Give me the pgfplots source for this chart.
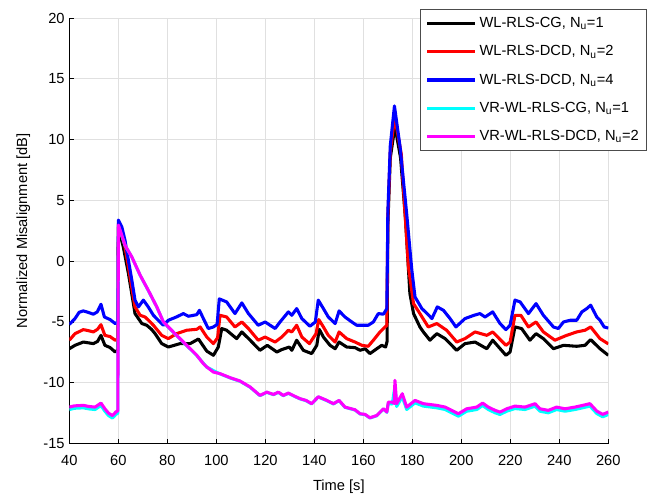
\documentclass[border=0pt]{standalone}
\usepackage{fontspec}
\setmainfont{Liberation Sans}
\usepackage{pgfplots}
\pgfplotsset{compat=1.18}
\definecolor{gridgray}{HTML}{E0E0E0}
\definecolor{cK}{HTML}{000000}
\definecolor{cR}{HTML}{FF0000}
\definecolor{cB}{HTML}{0000FF}
\definecolor{cC}{HTML}{00FFFF}
\definecolor{cM}{HTML}{FF00FF}

\begin{document}
\begin{tikzpicture}
\begin{axis}[
  scale only axis, width=404pt, height=319pt,
  xmin=40, xmax=260, ymin=-15, ymax=20,
  xtick={40,60,...,260}, ytick={-15,-10,...,20},
  axis lines*=left, axis line style={-, black},
  tick align=inside, major tick length=3.5pt,
  tick style={black, line width=0.5pt},
  grid=major, grid style={gridgray, line width=0.6pt},
  font=\fontsize{11}{13}\selectfont,
  /pgf/number format/assume math mode=true,
  xticklabel style={yshift=-5pt},
  xlabel={Time [s]}, ylabel={Normalized Misalignment [dB]},
  xlabel style={yshift=-4pt},
  ylabel style={yshift=3pt},
  legend cell align=left,
  legend style={at={(rel axis cs:1.072,1.021)}, anchor=north east,
    draw=black!70, line width=0.5pt, fill=white,
    font=\fontsize{11}{13}\selectfont, row sep=8pt, inner sep=4pt},
  legend image code/.code={\draw[#1, line width=2.4pt] (0pt,0pt) -- (36pt,0pt);},
  every axis plot/.append style={line width=2.3pt, line join=round},
]
\coordinate (bl) at (rel axis cs:0,0);
\coordinate (tr) at (rel axis cs:1,1);

% WL-RLS-CG, Nu=1
\addplot[cK] coordinates {
(40,-7.2) (42.3,-6.92) (45.7,-6.65) (49.8,-6.78) (51.5,-6.6) (52.9,-6.1) (54.5,-6.92) (56.6,-7.1) (58.7,-7.47) (59.8,-7.3)
(60.0,2.8) (62,1.18) (64.1,-1.0) (66.8,-4.31) (69.6,-5.13) (71.6,-5.27) (73.5,-5.6) (75,-5.96) (77.7,-6.78) (80.4,-7.06)
(85.2,-6.78) (89.3,-6.78) (92.7,-6.4) (96.1,-7.4) (98.8,-7.74) (100.8,-7.06) (102.2,-5.54) (104.2,-5.68) (108.3,-6.37)
(110.4,-5.82) (113.8,-6.5) (117.8,-7.33) (120.8,-6.92) (124.7,-7.47) (126.7,-7.27) (129.8,-7.06) (130.8,-7.33) (132.8,-6.5)
(135.5,-7.33) (138.9,-7.6) (141,-6.92) (142,-5.6) (143.7,-6.24) (146.4,-6.92) (148.5,-7.2) (150.1,-6.65) (153.2,-7.06)
(156.6,-7.11) (158.7,-7.33) (160.7,-7.2) (162.7,-7.6) (165.5,-7.2) (167.5,-6.92) (169.1,-7.06) (169.7,-6.6)
(170.0,3.0) (171.0,8.5) (172.9,11.1) (175.2,8.5) (177.2,3.5) (179,-2.66) (180.5,-4.31) (183.1,-5.41) (184.5,-5.82)
(187.2,-6.5) (190,-5.96) (193.4,-6.37) (198.1,-7.33) (201.5,-6.78) (205.6,-6.65) (210.4,-7.2) (212.8,-6.5) (218.2,-7.74)
(219.9,-7.47) (221.9,-5.41) (224.6,-5.54) (228,-6.5) (230.5,-5.96) (233.5,-6.37) (237.6,-7.2) (241.7,-6.92) (247.1,-7.0)
(250.5,-6.92) (252.8,-6.45) (256.6,-7.2) (260,-7.74)
};
\addlegendentry{WL-RLS-CG, N\textsubscript{u}=1}

% WL-RLS-DCD, Nu=2
\addplot[cR] coordinates {
(40,-6.5) (42.3,-5.96) (45.7,-5.63) (47.5,-5.7) (49.8,-5.82) (51.5,-5.6) (52.9,-5.22) (54.5,-6.1) (56.6,-6.2) (58.7,-6.5) (59.8,-6.4)
(60.0,3.1) (61.4,2.4) (62.7,1.2) (64.1,-0.47) (65.5,-2.2) (66.8,-3.76) (68.9,-4.45) (70.9,-4.59) (72.5,-4.9) (74.3,-5.27)
(77.7,-6.1) (80.4,-6.37) (83.8,-5.96) (87.9,-5.68) (92,-5.6) (93.4,-5.41) (96.1,-6.24) (98.8,-6.78) (100.5,-6.3)
(101.5,-4.45) (104.2,-4.59) (107.6,-5.41) (110.4,-5.0) (113.1,-5.54) (117.1,-6.5) (119.9,-6.24) (124,-6.65) (126.7,-6.24)
(129.4,-5.68) (130.8,-5.82) (132.8,-5.27) (134.9,-6.24) (138,-6.78) (140.7,-5.96) (141.8,-4.8) (143.7,-5.41) (145.7,-6.1)
(148.5,-6.65) (150.1,-5.82) (153.2,-6.37) (156.6,-6.65) (159.4,-6.92) (162,-7.0) (164.1,-6.5) (166.8,-5.82) (169.6,-5.27)
(170.0,3.5) (171.0,9.0) (172.8,11.9) (175.5,8.8) (178.4,-0.47) (180.5,-3.49) (183.1,-4.31) (186.5,-5.41) (190,-5.13)
(194,-5.68) (197.5,-6.5) (198.1,-6.65) (201.5,-6.37) (205.6,-5.82) (210.4,-6.1) (212.8,-5.82) (218.2,-6.92) (219.9,-6.65)
(221.9,-4.45) (224.3,-4.45) (227.4,-5.41) (230.5,-5.0) (233.5,-5.82) (238.2,-6.5) (243,-6.1) (247.1,-5.82) (250.5,-5.68)
(252.8,-5.41) (256.6,-6.37) (260,-6.8)
};
\addlegendentry{WL-RLS-DCD, N\textsubscript{u}=2}

% WL-RLS-DCD, Nu=4
\addplot[cB] coordinates {
(40,-5.2) (42.3,-4.72) (44,-4.2) (45.7,-4.09) (47.1,-4.17) (49.8,-4.36) (51.4,-4.17) (52.9,-3.54) (54.3,-4.59) (56.6,-4.8)
(58.7,-5.13) (59.8,-5.0) (60.0,3.38) (61.4,2.83) (62.7,1.73) (64.1,0.08) (65.5,-1.56) (66.8,-3.2) (68.2,-3.76) (70.2,-3.2)
(72.2,-3.76) (74.3,-4.45) (76.3,-4.86) (78.4,-5.27) (80.4,-4.86) (83.8,-4.58) (86.5,-4.31) (88.6,-4.53) (92,-4.4) (93.1,-4.04)
(94.7,-4.72) (96.7,-5.54) (98.8,-5.41) (100.3,-5.2) (101.2,-3.1) (101.8,-3.15) (104.2,-3.35) (107.6,-4.31) (110.4,-3.43)
(113.1,-4.31) (117.1,-5.27) (119.9,-5.0) (124,-5.54) (126,-5.0) (129.4,-4.17) (130.8,-4.45) (132.8,-3.9) (134.9,-4.72)
(138.2,-5.35) (140.4,-5.0) (141.6,-3.2) (143.7,-3.9) (145.7,-4.59) (148.5,-5.13) (150.1,-4.09) (152.5,-4.59) (155.3,-5.0)
(157.3,-5.27) (159.4,-5.27) (162,-5.27) (164.1,-5.0) (166.1,-4.31) (168.2,-4.36) (169.6,-3.9) (170.0,4.0) (171.0,9.5)
(172.7,12.77) (175,9.4) (177.7,3.9) (179.8,-0.74) (181.1,-2.94) (183.9,-3.9) (186,-4.3) (188,-4.72) (190.2,-3.76) (192.7,-4.04)
(195.4,-4.72) (197.8,-5.41) (201.5,-4.72) (205.2,-4.45) (207.6,-4.31) (209.7,-4.59) (212.8,-4.17) (215.8,-5.13) (218.2,-5.63)
(219.9,-5.27) (221.9,-3.2) (224,-3.35) (227.4,-4.31) (230.5,-3.49) (233.5,-4.45) (237.6,-5.41) (239.6,-5.54) (241.7,-5.0)
(244.4,-4.86) (247.1,-4.86) (249.2,-4.17) (251.2,-3.9) (252.8,-3.62) (255.3,-4.59) (256.6,-4.86) (258.3,-5.41) (260,-5.5)
};
\addlegendentry{WL-RLS-DCD, N\textsubscript{u}=4}

% VR-WL-RLS-CG, Nu=1
\addplot[cC] coordinates {
(40,-12.2) (42,-12.1) (45.7,-12.06) (48,-12.15) (50.5,-12.2) (52.9,-11.87) (54.5,-12.34) (56,-12.7) (57.6,-12.9) (59,-12.6)
(59.8,-12.5) (60.0,2.9) (62.7,1.3) (65.5,0.33) (68.9,-1.17) (72.2,-2.41) (75.7,-3.78) (78.4,-5.02) (83.1,-5.98) (87.9,-6.94)
(92,-7.76) (96.1,-8.72) (101.5,-9.27) (105.6,-9.6) (109.7,-9.88) (113.8,-10.37) (117.8,-11.06) (120.6,-10.79) (123.3,-10.98)
(125.3,-10.79) (127.3,-11.06) (129.4,-10.87) (132.1,-11.14) (134.2,-11.33) (136.6,-11.47) (138.9,-11.74) (141.6,-11.17)
(145.1,-11.47) (147.8,-11.74) (150.1,-11.47) (152.5,-12.02) (156.6,-12.24) (158.7,-12.57) (160.7,-12.62) (162.7,-12.9)
(165.5,-12.71) (168.2,-12.16) (169.6,-12.43) (170.2,-11.7) (171.8,-11.75) (172.9,-10.3) (173.6,-11.95) (175.9,-11.15)
(177.7,-12.2) (181.1,-11.65) (184.5,-11.92) (190,-12.06) (193.4,-12.2) (198.8,-12.75) (202.2,-12.34) (206.3,-12.2)
(208.7,-11.87) (211,-12.2) (213.8,-12.47) (215.8,-12.61) (218.5,-12.34) (221.9,-12.12) (226,-12.2) (230.1,-11.92)
(232.1,-12.34) (235.5,-12.47) (238.9,-12.2) (242.3,-12.34) (246.4,-12.2) (249.5,-12.06) (252.5,-11.92) (255.3,-12.53)
(257.7,-12.8) (260,-12.61)
};
\addlegendentry{VR-WL-RLS-CG, N\textsubscript{u}=1}

% VR-WL-RLS-DCD, Nu=2
\addplot[cM] coordinates {
(40,-12.0) (42,-11.9) (45.7,-11.86) (48,-11.95) (50.5,-12.0) (52.9,-11.67) (54.5,-12.14) (56,-12.5) (57.6,-12.7) (59,-12.4)
(59.8,-12.3) (60.0,2.97) (62.7,1.32) (65.5,0.35) (68.9,-1.15) (72.2,-2.39) (75.7,-3.76) (78.4,-5.0) (83.1,-5.96) (87.9,-6.92)
(92,-7.74) (94.7,-8.43) (96.1,-8.7) (98.8,-9.12) (101.5,-9.25) (105.6,-9.58) (109.7,-9.86) (113.8,-10.35) (117.8,-11.04)
(120.6,-10.77) (123.3,-10.96) (125.3,-10.77) (127.3,-11.04) (129.4,-10.85) (132.1,-11.12) (134.2,-11.31) (136.6,-11.45)
(138.9,-11.72) (141.6,-11.15) (145.1,-11.45) (147.8,-11.72) (150.1,-11.45) (152.5,-12.0) (156.6,-12.22) (158.7,-12.55)
(160.7,-12.6) (162.7,-12.88) (165.5,-12.69) (168.2,-12.14) (169.6,-12.41) (170.2,-11.59) (171.8,-11.59) (172.6,-11.7)
(172.9,-9.8) (173.6,-11.72) (175.9,-10.9) (177.7,-12.0) (181.1,-11.45) (184.5,-11.72) (190,-11.86) (193.4,-12.0)
(198.8,-12.55) (202.2,-12.14) (206.3,-12.0) (208.7,-11.67) (211,-12.0) (213.8,-12.27) (215.8,-12.41) (218.5,-12.14)
(221.9,-11.92) (226,-12.0) (230.1,-11.72) (232.1,-12.14) (235.5,-12.27) (238.9,-12.0) (242.3,-12.14) (246.4,-12.0)
(249.5,-11.86) (252.5,-11.72) (255.3,-12.33) (257.7,-12.6) (260,-12.41)
};
\addlegendentry{VR-WL-RLS-DCD, N\textsubscript{u}=2}
\end{axis}
\path (bl) ++(-52pt,-40pt);
\path (tr) ++(41pt,13.5pt);
\end{tikzpicture}
\end{document}
